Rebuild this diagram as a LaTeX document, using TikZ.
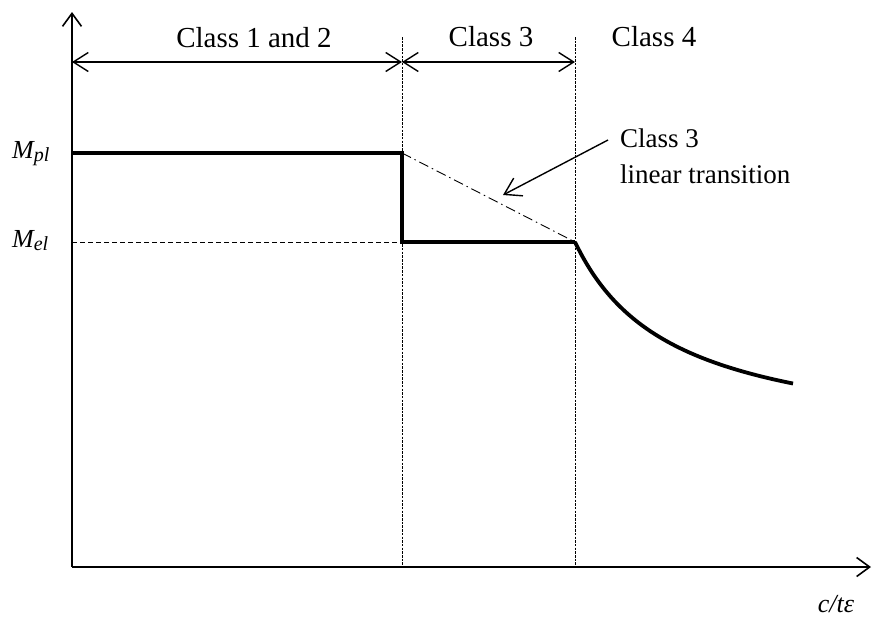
\documentclass[tikz,border=0pt]{standalone}
\usepackage{fontspec}
\setmainfont{Liberation Serif}
\usetikzlibrary{arrows.meta}
\begin{document}
\begin{tikzpicture}[x=1pt,y=-1pt,
  axis/.style={line width=1.6pt,-{Straight Barb[length=13pt,width=19pt]}},
  dimarrow/.style={line width=1.4pt,{Straight Barb[length=15pt,width=19pt]}-{Straight Barb[length=15pt,width=19pt]}},
  pointer/.style={line width=1.4pt,-{Straight Barb[length=16pt,width=20pt]}},
  guide/.style={line width=0.9pt,dash pattern=on 2.5pt off 1.2pt},
  refline/.style={line width=0.9pt,dash pattern=on 5pt off 3pt},
  transline/.style={line width=0.9pt,dash pattern=on 10pt off 4pt on 1.5pt off 4pt},
  bold/.style={line width=3.8pt,line join=miter},
  lbl/.style={font=\fontsize{29}{34}\selectfont,inner sep=0pt},
  alb/.style={font=\fontsize{27}{32}\selectfont,inner sep=0pt},
  mlbl/.style={font=\fontsize{26}{32}\selectfont\itshape,inner sep=0pt},
]
\useasboundingbox (0,0) rectangle (873,624);
% axes
\coordinate (O) at (72,567);
\coordinate (ytip) at (72,12);
\coordinate (xtip) at (871,567);
\draw[axis] (O) -- (ytip);
\draw[axis] (O) -- (xtip);
% guides
\coordinate (g1top) at (402,37);
\coordinate (g1bot) at (402,567);
\coordinate (g2top) at (575,37);
\coordinate (g2bot) at (575,567);
\draw[guide] (g1top) -- (g1bot);
\draw[guide] (g2top) -- (g2bot);
% dimension arrows
\coordinate (d0) at (72,62);
\coordinate (d1) at (402,62);
\coordinate (d2) at (575,62);
\draw[dimarrow] (d0) -- (d1);
\draw[dimarrow] (d1) -- (d2);
% class labels
\node[lbl,anchor=base] (c12) at (254,47) {Class 1 and 2};
\node[lbl,anchor=base] (c3) at (491,46) {Class 3};
\node[lbl,anchor=base] (c4) at (654,46) {Class 4};
% levels
\coordinate (pl0) at (72,153);
\coordinate (pl1) at (402,153);
\coordinate (el0) at (72,242);
\coordinate (el1) at (402,242);
\coordinate (el2) at (575,242);
\draw[refline] (el0) -- (el1);
\draw[transline] (pl1) -- (el2);
\draw[bold] (pl0) -- (pl1) -- (el1) -- (el2);
\draw[bold,line join=round] plot[domain=575:793,samples=80] (\x,{447-200.49/((\x-477.2)/100)});
% M labels
\node[mlbl,anchor=base west] (mpl) at (12,158) {M\raisebox{-0.3ex}{\fontsize{20}{21}\selectfont pl}};
\node[mlbl,anchor=base west] (mel) at (12,247) {M\raisebox{-0.3ex}{\fontsize{20}{21}\selectfont el}};
% annotation
\node[alb,anchor=base west] (ann1) at (620,147) {Class 3};
\node[alb,anchor=base west] (ann2) at (620,183) {linear transition};
\coordinate (pfrom) at (608,140);
\coordinate (pto) at (503,195);
\draw[pointer] (pfrom) -- (pto);
% x label
\node[mlbl,anchor=base] (xl) at (836,612) {c/tε};
\end{tikzpicture}
\end{document}
